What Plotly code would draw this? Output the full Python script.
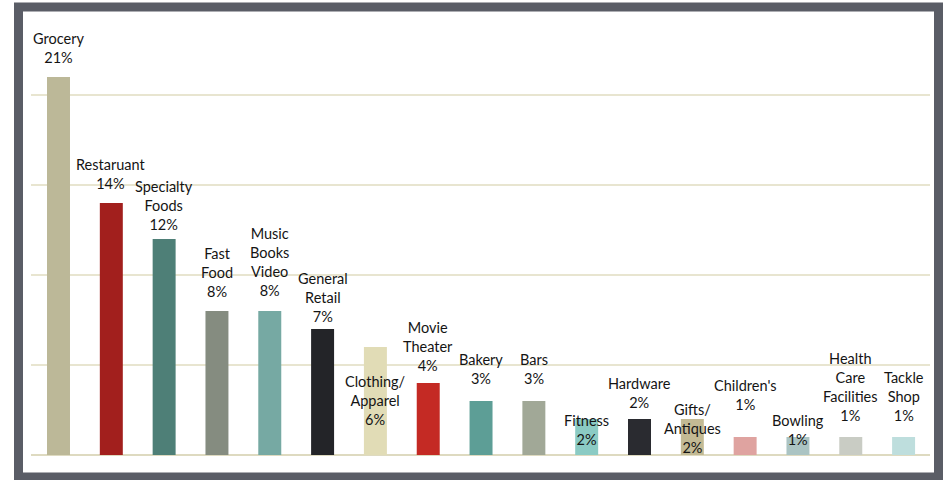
import plotly.graph_objects as go

# Share of businesses by category (percent)
categories = [
    "Grocery", "Restaruant", "Specialty Foods", "Fast Food", "Music Books Video",
    "General Retail", "Clothing/Apparel", "Movie Theater", "Bakery", "Bars",
    "Fitness", "Hardware", "Gifts/Antiques", "Children's", "Bowling",
    "Health Care Facilities", "Tackle Shop",
]
label_names = [
    "Grocery", "Restaruant", "Specialty<br>Foods", "Fast<br>Food", "Music<br>Books<br>Video",
    "General<br>Retail", "Clothing/<br>Apparel", "Movie<br>Theater", "Bakery", "Bars",
    "Fitness", "Hardware", "Gifts/<br>Antiques", "Children's", "Bowling",
    "Health<br>Care<br>Facilities", "Tackle<br>Shop",
]
shares = [21, 14, 12, 8, 8, 7, 6, 4, 3, 3, 2, 2, 2, 1, 1, 1, 1]

# Styling
bar_colors = [
    "#BCB898", "#A21F1D", "#4E7F77", "#858C80", "#76A9A3",
    "#232428", "#E1DCB6", "#C42A24", "#5D9E96", "#A1A897",
    "#8BCBC4", "#2A2B30", "#C3BA94", "#DFA3A0", "#ABC4C3",
    "#C9CCC4", "#BEDEDD",
]
# distance (px) from top of bar to centre of the label's last line
label_gap_px = [19.5, 20, 14.7, 19.3, 21, 12.3, -72, 17.3, 22.7, 22.7,
                -20.3, 16.7, -28.3, 33, -2.7, 22, 22]

W, H = 947, 480
ML, MR, MT, MB = 31, 17, 25, 25
FONT = "Lato"
FS = 14.5
PX_PER_UNIT = 18.0

pw, ph = W - ML - MR, H - MT - MB

fig = go.Figure()
fig.add_trace(go.Bar(
    x=categories,
    y=shares,
    marker=dict(color=bar_colors, line=dict(width=0)),
    hoverinfo="skip",
))

for cat, name, v, gap in zip(categories, label_names, shares, label_gap_px):
    fig.add_annotation(
        x=cat, y=v, xref="x", yref="y",
        text=f"{name}<br>{v}%",
        showarrow=False,
        yanchor="bottom",
        yshift=gap - 10.5,
        font=dict(family=FONT, size=FS, color="#141414"),
        align="center",
    )

# outer frame, defined in pixels and converted to paper coordinates
def px_x(p):
    return (p - ML) / pw
def px_y(p):
    return (H - MB - p) / ph

fig.add_shape(
    type="rect", xref="paper", yref="paper", layer="above",
    x0=px_x(18.5), x1=px_x(938.5), y0=px_y(477), y1=px_y(7),
    line=dict(color="#5A5D66", width=9), fillcolor="rgba(0,0,0,0)",
)

fig.update_layout(
    width=W, height=H,
    margin=dict(l=ML, r=MR, t=MT, b=MB, pad=0),
    paper_bgcolor="white",
    plot_bgcolor="white",
    showlegend=False,
    bargap=0.565,
    xaxis=dict(showticklabels=False, showgrid=False, zeroline=False,
               showline=False, ticks=""),
    yaxis=dict(range=[0, ph / PX_PER_UNIT], dtick=5, showticklabels=False, ticks="",
               showgrid=True, gridcolor="#E8E5D0", gridwidth=1.5,
               zeroline=True, zerolinecolor="#DEDAC0", zerolinewidth=2,
               showline=False),
)

fig.write_html("out.html")
